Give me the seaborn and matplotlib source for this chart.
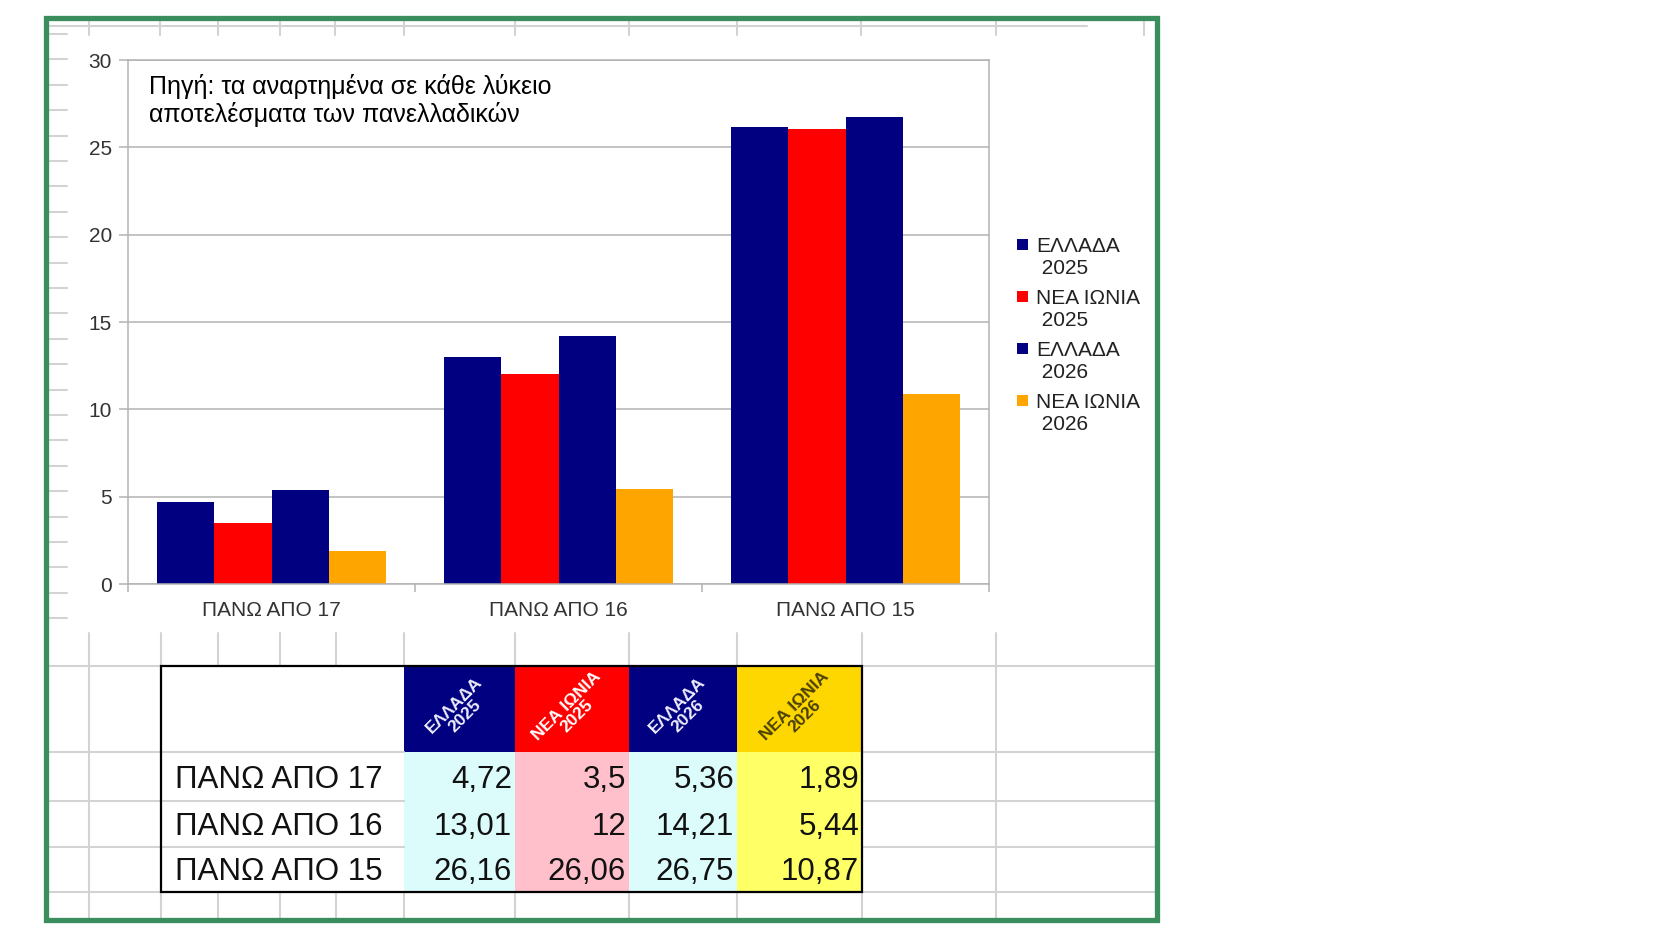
import numpy as np
import pandas as pd
import matplotlib
matplotlib.use("Agg")
import matplotlib.pyplot as plt
import seaborn as sns
from matplotlib.patches import Rectangle

categories = ["ΠΑΝΩ ΑΠΟ 17", "ΠΑΝΩ ΑΠΟ 16", "ΠΑΝΩ ΑΠΟ 15"]
series = ["ΕΛΛΑΔΑ 2025", "ΝΕΑ ΙΩΝΙΑ 2025", "ΕΛΛΑΔΑ 2026", "ΝΕΑ ΙΩΝΙΑ 2026"]
ellada_2025 = [4.72, 13.01, 26.16]
nea_ionia_2025 = [3.5, 12, 26.06]
ellada_2026 = [5.36, 14.21, 26.75]
nea_ionia_2026 = [1.89, 5.44, 10.87]
yticks = [0, 5, 10, 15, 20, 25, 30]
source_note = "Πηγή: τα αναρτημένα σε κάθε λύκειο\nαποτελέσματα των πανελλαδικών"

bar_colors = ["#000080", "#ff0000", "#000080", "#ffa500"]
header_colors = ["#000080", "#ff0000", "#000080", "#ffd700"]
cell_colors = ["#dcfcfc", "#ffc0cb", "#dcfcfc", "#ffff66"]
header_text_colors = ["#eeeeff", "#ffffff", "#eeeeff", "#4a4000"]

values = [ellada_2025, nea_ionia_2025, ellada_2026, nea_ionia_2026]
rows = []
for s, vals in zip(series, values):
    for c, v in zip(categories, vals):
        rows.append({"κατηγορία": c, "σειρά": s, "τιμή": v})
df = pd.DataFrame(rows)

sns.set_theme(style="white")
plt.rcParams["font.family"] = ["Liberation Sans", "DejaVu Sans"]

W, H = 1654, 931
fig = plt.figure(figsize=(W / 100, H / 100), dpi=100)
fig.patch.set_facecolor("white")

gray = "#b3b3b3"
grid_gray = "#d3d3d3"

# chart
ax = fig.add_axes([128 / W, 1 - 584 / H, 861 / W, 524 / H])
ax.set_facecolor("white")
sns.barplot(data=df, x="κατηγορία", y="τιμή", hue="σειρά", order=categories,
            hue_order=series, palette=bar_colors, saturation=1, width=0.8,
            linewidth=0, errorbar=None, legend=False, ax=ax)
ax.set_xlim(-0.5, 2.5)
ax.set_ylim(0, 30)
ax.set_yticks(yticks)
ax.set_xlabel("")
ax.set_ylabel("")
ax.yaxis.grid(True, color=gray, linewidth=1.1)
ax.set_axisbelow(True)
for sp in ax.spines.values():
    sp.set_color(gray)
    sp.set_linewidth(1.1)
ax.tick_params(axis="y", left=True, length=6.5, width=1.1, color=gray,
               labelsize=15, labelcolor="#333333", pad=5)
ax.tick_params(axis="x", bottom=True, length=0, labelsize=15,
               labelcolor="#333333", pad=12)
ax.set_xticks([-0.5, 0.5, 1.5, 2.5], minor=True)
ax.tick_params(axis="x", which="minor", bottom=True, length=6, width=1.1, color=gray)

# spreadsheet background, border, legend, table (pixel coordinates)
bg = fig.add_axes([0, 0, 1, 1], zorder=5)
bg.set_facecolor("none")
bg.set_xlim(0, W)
bg.set_ylim(H, 0)
bg.axis("off")

top_cols = [89, 160, 218, 280, 335, 404, 515, 629, 737, 861, 996, 1144]
bg.plot([46, 1087], [26, 26], color=grid_gray, lw=1.5, zorder=1)
for x in top_cols:
    bg.plot([x, x], [18, 35], color=grid_gray, lw=1.5, zorder=1)
for y in np.arange(34, 625, 25.4):
    bg.plot([46, 67], [y, y], color=grid_gray, lw=1.5, zorder=1)

low_cols = [89, 161, 218, 280, 336, 404, 515, 629, 737, 862, 996]
for x in low_cols:
    bg.plot([x, x], [633, 920], color=grid_gray, lw=1.5, zorder=1)
row_lines = [666, 752, 801, 847, 892]
for y in row_lines:
    bg.plot([46, 1157], [y, y], color=grid_gray, lw=1.5, zorder=1)

# table
col_edges = [161, 404, 515, 629, 737, 862]
row_edges = [666, 752, 801, 847, 892]
bg.add_patch(Rectangle((col_edges[0], row_edges[0]), col_edges[1] - col_edges[0],
                       row_edges[-1] - row_edges[0], facecolor="white",
                       edgecolor="none", zorder=2))
for y in row_edges[1:-1]:
    bg.plot([col_edges[0], col_edges[1]], [y, y], color=grid_gray, lw=1.5, zorder=3)
for j, s in enumerate(series):
    x0, x1 = col_edges[j + 1], col_edges[j + 2]
    bg.add_patch(Rectangle((x0, row_edges[0]), x1 - x0, row_edges[1] - row_edges[0],
                           facecolor=header_colors[j], edgecolor="none", zorder=2))
    bg.add_patch(Rectangle((x0, row_edges[1]), x1 - x0, row_edges[-1] - row_edges[1],
                           facecolor=cell_colors[j], edgecolor="none", zorder=2))
    bg.text((x0 + x1) / 2, (row_edges[0] + row_edges[1]) / 2 + 2,
            s.replace(" 20", "\n20"), rotation=45, ha="center", va="center",
            rotation_mode="anchor", fontsize=12.5, fontweight="bold",
            color=header_text_colors[j], linespacing=1.0, zorder=5)
    for i, v in enumerate(values[j]):
        bg.text(x1 - 3, (row_edges[i + 1] + row_edges[i + 2]) / 2 + 3,
                f"{v:g}".replace(".", ","), ha="right", va="center",
                fontsize=22.5, color="#111111", zorder=5)
for i, c in enumerate(categories):
    bg.text(175, (row_edges[i + 1] + row_edges[i + 2]) / 2 + 3, c, ha="left",
            va="center", fontsize=22.5, color="#111111", zorder=5)
bg.add_patch(Rectangle((col_edges[0], row_edges[0]), col_edges[-1] - col_edges[0],
                       row_edges[-1] - row_edges[0], facecolor="none",
                       edgecolor="black", lw=1.6, zorder=4))

# source note inside the plot area
bg.text(149, 74, source_note, ha="left", va="top", fontsize=18,
        color="black", linespacing=1.14)

# legend
for k, s in enumerate(series):
    yc = 245 + 52 * k
    bg.add_patch(Rectangle((1017, yc - 6), 11, 11, facecolor=bar_colors[k], edgecolor="none"))
    bg.text(1036, yc - 8, s.replace(" 20", "\n 20"), ha="left", va="top",
            fontsize=15, color="#222222", linespacing=1.17)

# green frame
bg.add_patch(Rectangle((46, 18), 1111, 902, fill=False, edgecolor="#3a8d5d",
                       lw=3.8, zorder=6))

fig.savefig("out.png", dpi=100)
